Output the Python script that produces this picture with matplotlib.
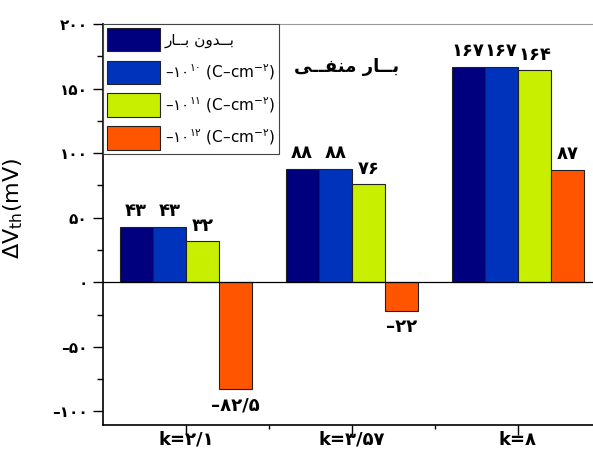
import numpy as np
import matplotlib.pyplot as plt
from matplotlib.ticker import FixedLocator, MultipleLocator

# data
groups = ['k=۲/۱', 'k=۳/۵۷', 'k=۸']
no_charge = [43, 88, 167]
dose_1e10 = [43, 88, 167]
dose_1e11 = [32, 76, 164]
dose_1e12 = [-82.5, -22, 87]
series = [no_charge, dose_1e10, dose_1e11, dose_1e12]
value_labels = [['۴۳', '۸۸', '۱۶۷'],
                ['۴۳', '۸۸', '۱۶۷'],
                ['۳۲', '۷۶', '۱۶۴'],
                ['–۸۲/۵', '–۲۲', '۸۷']]
yticks = [-100, -50, 0, 50, 100, 150, 200]
ytick_labels = ['–۱۰۰', '–۵۰', '۰', '۵۰', '۱۰۰', '۱۵۰', '۲۰۰']

# "بدون بار" and "بار منفی", shaped by hand in visual (left-to-right) order,
# since matplotlib does no RTL shaping
leg_none = '\uFEAD\uFE8E\u0640\u0640\uFE91 \uFEE5\uFEED\uFEAA\u0640\u0640\uFE91'
title_txt = '\uFEF0\u0640\u0640\uFED4\uFEE8\uFEE3 \uFEAD\uFE8E\u0640\u0640\uFE91'
labels = [leg_none,
          r'–۱۰$^{۱۰}$ (C–cm$^{-۲}$)',
          r'–۱۰$^{۱۱}$ (C–cm$^{-۲}$)',
          r'–۱۰$^{۱۲}$ (C–cm$^{-۲}$)']
colors = ['#00007f', '#0033bb', '#c8ee00', '#ff5500']

plt.rcParams['font.family'] = ['DejaVu Sans']
plt.rcParams['mathtext.fontset'] = 'dejavusans'

fig = plt.figure(figsize=(5.93, 4.5), dpi=100)
ax = fig.add_axes([103 / 593, 25 / 450, 498 / 593, 401 / 450])

x = np.arange(1, len(groups) + 1)
w = 0.2
for i, (vals, lab, c) in enumerate(zip(series, labels, colors)):
    pos = x + (i - 1.5) * w
    ax.bar(pos, vals, w, color=c, edgecolor='#222222', linewidth=0.8, label=lab)
    for p, v, t in zip(pos, vals, value_labels[i]):
        if v >= 0:
            ax.text(p, v + 5, t, ha='center', va='bottom', fontsize=13, fontweight='bold')
        else:
            ax.text(p, v - 6, t, ha='center', va='top', fontsize=13, fontweight='bold')

ax.axhline(0, color='black', linewidth=0.9)
ax.set_xlim(0.5, 3.5)
ax.set_ylim(-110.5, 200)

ax.set_yticks(yticks)
ax.set_yticklabels(ytick_labels, fontsize=11, fontweight='bold')
ax.yaxis.set_minor_locator(MultipleLocator(25))
ax.set_xticks(x)
ax.set_xticklabels(groups, fontsize=13, fontweight='bold')
ax.xaxis.set_minor_locator(FixedLocator([1.5, 2.5]))
ax.tick_params(axis='y', which='major', direction='out', length=7, width=1, pad=4)
ax.tick_params(axis='y', which='minor', direction='out', length=4, width=1)
ax.tick_params(axis='x', which='major', direction='out', length=7, width=1, pad=-3)
ax.tick_params(axis='x', which='minor', direction='out', length=3, width=1)

ax.spines['top'].set_color('#999999')
ax.spines['right'].set_visible(False)
ax.spines['left'].set_linewidth(1.2)
ax.spines['bottom'].set_linewidth(1.2)

ax.set_ylabel(r'$\Delta$V$_{\rm th}$(mV)', fontsize=16)
ax.yaxis.set_label_coords(-0.157, 0.54)

ax.text(1.97, 167, title_txt, ha='center', va='center', fontsize=13, fontweight='bold')

leg = ax.legend(loc='upper left', bbox_to_anchor=(0, 1), borderaxespad=0,
                fontsize=11, handlelength=3.45, handleheight=2.0,
                labelspacing=0.6, handletextpad=0.35, borderpad=0.25,
                fancybox=False, framealpha=1)
leg.get_frame().set_edgecolor('#444444')
leg.get_frame().set_linewidth(0.8)

fig.savefig('out.png', dpi=100)
